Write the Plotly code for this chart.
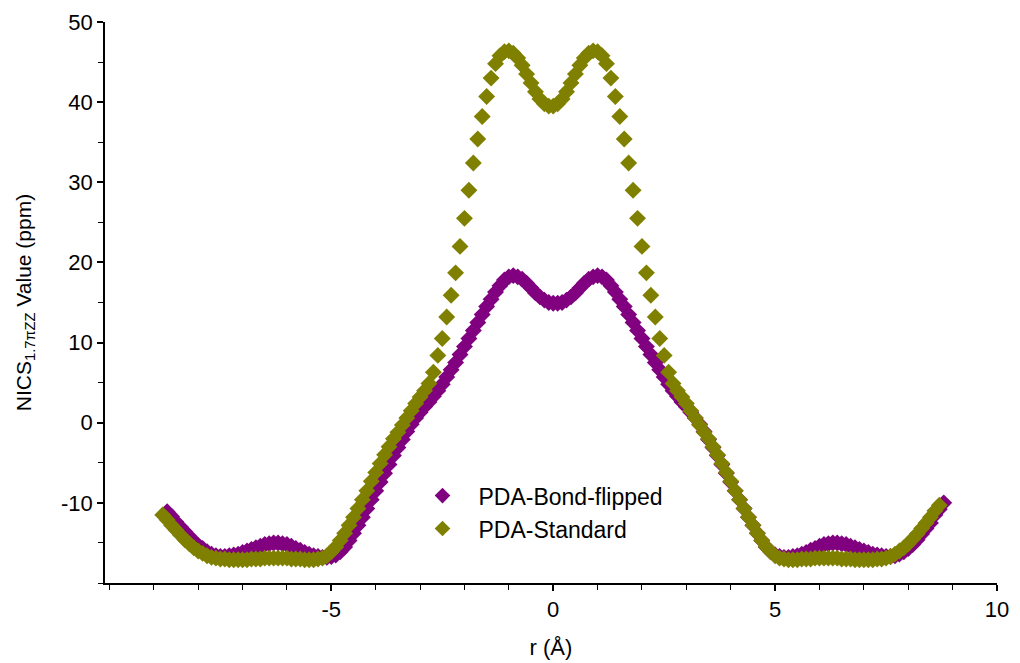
import plotly.graph_objects as go

# Sampling positions along r (Angstrom), 0.1 A steps
r_standard = [round(-8.8 + 0.1 * i, 1) for i in range(176)]   # -8.8 .. 8.7
r_flipped = [round(-8.7 + 0.1 * i, 1) for i in range(176)]    # -8.7 .. 8.8

# NICS(1.7)pi-zz values (ppm), PDA-Standard
nics_standard = [
    -11.5, -12.1, -12.8, -13.4, -14.0, -14.6, -15.1, -15.6, -16.0, -16.3,
    -16.6, -16.8, -16.9, -17.0, -17.0, -17.1, -17.1, -17.1, -17.1, -17.1,
    -17.0, -17.0, -17.0, -16.9, -16.9, -16.9, -16.9, -16.9, -16.9, -17.0,
    -17.0, -17.0, -17.1, -17.1, -17.1, -17.0, -16.9, -16.6, -16.1, -15.5,
    -14.7, -13.8, -12.8, -11.8, -10.7, -9.6, -8.5, -7.3, -6.2, -5.1,
    -4.0, -3.0, -2.0, -1.2, -0.3, 0.6, 1.5, 2.4, 3.2, 4.0,
    4.9, 6.3, 8.4, 10.5, 13.2, 15.9, 18.7, 22.0, 25.5, 29.0,
    32.4, 35.4, 38.2, 40.7, 43.0, 44.8, 45.8, 46.3, 46.4, 46.1,
    45.5, 44.6, 43.5, 42.4, 41.3, 40.4, 39.8, 39.5,
    39.5, 39.8, 40.4, 41.3, 42.4, 43.5, 44.6, 45.5, 46.1, 46.4,
    46.3, 45.8, 44.8, 43.0, 40.7, 38.2, 35.4, 32.4, 29.0, 25.5,
    22.0, 18.7, 15.9, 13.2, 10.5, 8.4, 6.3, 4.9, 4.0, 3.2,
    2.4, 1.5, 0.6, -0.3, -1.2, -2.0, -3.0, -4.0, -5.1, -6.2,
    -7.3, -8.5, -9.6, -10.7, -11.8, -12.8, -13.8, -14.7, -15.5, -16.1,
    -16.6, -16.9, -17.0, -17.1, -17.1, -17.1, -17.0, -17.0, -17.0, -16.9,
    -16.9, -16.9, -16.9, -16.9, -16.9, -17.0, -17.0, -17.0, -17.1, -17.1,
    -17.1, -17.1, -17.1, -17.0, -17.0, -16.9, -16.7, -16.4, -16.0, -15.6,
    -15.1, -14.5, -13.9, -13.2, -12.5, -11.8, -11.0, -10.3,
]

# NICS(1.7)pi-zz values (ppm), PDA-Bond-flipped
nics_flipped = [
    -11.1, -11.7, -12.4, -13.0, -13.6, -14.2, -14.8, -15.3, -15.7, -16.1,
    -16.4, -16.6, -16.7, -16.7, -16.6, -16.5, -16.4, -16.2, -16.0, -15.8,
    -15.6, -15.4, -15.2, -15.1, -15.0, -15.0, -15.1, -15.2, -15.4, -15.7,
    -15.9, -16.2, -16.4, -16.6, -16.7, -16.8, -16.8, -16.7, -16.5, -16.1,
    -15.5, -14.7, -13.8, -12.8, -11.8, -10.7, -9.6, -8.5, -7.4, -6.3,
    -5.2, -4.1, -3.1, -2.1, -1.1, -0.2, 0.6, 1.3, 2.0, 2.6,
    3.3, 4.0, 4.8, 5.7, 6.6, 7.5, 8.5, 9.5, 10.5, 11.5,
    12.5, 13.5, 14.5, 15.4, 16.3, 17.1, 17.8, 18.2, 18.35, 18.2,
    17.9, 17.4, 16.8, 16.2, 15.7, 15.3, 15.0, 14.9,
    14.9, 15.0, 15.3, 15.7, 16.2, 16.8, 17.4, 17.9, 18.2, 18.35,
    18.2, 17.8, 17.1, 16.3, 15.4, 14.5, 13.5, 12.5, 11.5, 10.5,
    9.5, 8.5, 7.5, 6.6, 5.7, 4.8, 4.0, 3.3, 2.6, 2.0,
    1.3, 0.6, -0.2, -1.1, -2.1, -3.1, -4.1, -5.2, -6.3, -7.4,
    -8.5, -9.6, -10.7, -11.8, -12.8, -13.8, -14.7, -15.5, -16.1, -16.5,
    -16.7, -16.8, -16.8, -16.7, -16.6, -16.4, -16.2, -15.9, -15.7, -15.4,
    -15.2, -15.1, -15.0, -15.0, -15.1, -15.2, -15.4, -15.6, -15.8, -16.0,
    -16.2, -16.4, -16.5, -16.6, -16.7, -16.7, -16.6, -16.4, -16.1, -15.7,
    -15.2, -14.6, -13.9, -13.2, -12.5, -11.5, -10.8, -10.0,
]

x_ticks = [-5, 0, 5, 10]
y_ticks = [-10, 0, 10, 20, 30, 40, 50]

FONT = "Liberation Sans, Arial, sans-serif"

fig = go.Figure()
fig.add_trace(go.Scatter(
    x=r_flipped, y=nics_flipped, mode="markers", name="PDA-Bond-flipped",
    marker=dict(symbol="diamond", size=13, color="#800080", line=dict(width=0)),
))
fig.add_trace(go.Scatter(
    x=r_standard, y=nics_standard, mode="markers", name="PDA-Standard",
    marker=dict(symbol="diamond", size=13, color="#808000", line=dict(width=0)),
))

axis_common = dict(
    showgrid=False, zeroline=False, showline=True, linecolor="black", linewidth=1.5,
    ticks="outside", ticklen=6, tickwidth=1.5, tickcolor="black",
    tickfont=dict(family=FONT, size=22, color="black"),
    automargin=False,
)

fig.update_xaxes(
    **axis_common,
    range=[-10.1, 10], tickmode="array", tickvals=x_ticks,
    ticktext=[str(v) for v in x_ticks],
    minor=dict(dtick=1, tick0=0, ticks="outside", ticklen=5, tickwidth=1.2, tickcolor="black"),
    title=dict(text="r (Å)", font=dict(family=FONT, size=22, color="black"), standoff=18),
)
fig.update_yaxes(
    **axis_common,
    range=[-20, 50], tickmode="array", tickvals=y_ticks,
    ticktext=[str(v) for v in y_ticks],
    minor=dict(dtick=5, tick0=0, ticks="outside", ticklen=5, tickwidth=1.2, tickcolor="black"),
    title=dict(text="NICS<sub>1.7πZZ</sub> Value (ppm)",
               font=dict(family=FONT, size=21, color="black"), standoff=24),
)

fig.update_layout(
    width=1020, height=663,
    margin=dict(l=105, r=23, t=22, b=80),
    paper_bgcolor="white", plot_bgcolor="white",
    showlegend=True,
    legend=dict(
        x=0.338, y=0.194, xanchor="left", yanchor="top",
        bgcolor="rgba(0,0,0,0)", borderwidth=0,
        font=dict(family=FONT, size=23, color="black"),
        itemsizing="constant", itemwidth=62, tracegroupgap=0,
    ),
)

fig.write_html("out.html")
